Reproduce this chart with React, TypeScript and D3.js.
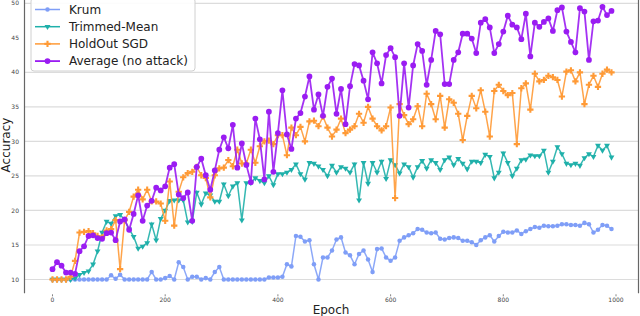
import * as d3 from "d3";

const width = 640;
const height = 316;

// one point every 8 epochs, 125 points per run
const epochStep = 8;
const xTicks = [0, 200, 400, 600, 800, 1000];
const yTicks = [10, 15, 20, 25, 30, 35, 40, 45, 50];
const gridTicks = [10, 15, 20, 25, 30, 35, 40, 50];

const krum = [
  10, 10, 10, 10, 10, 10, 10, 10, 10, 10,
  10, 10, 10, 10.6, 10.1, 10.7, 10, 10, 10, 10,
  10, 10, 11.1, 10, 10, 10.2, 10.5, 10, 12.5, 11.8,
  10, 10.4, 10.4, 10, 10.2, 10, 11.1, 11.8, 10, 10,
  10, 10, 10, 10, 10, 10, 10, 10, 10.3, 10.3,
  10.3, 10.4, 12.2, 11.9, 16.3, 16.2, 15.5, 15.7, 12.2, 10,
  13.2, 13.2, 14.2, 15.8, 16.1, 13.9, 13.5, 12.2, 13.7, 14.2,
  12.9, 11.1, 14.4, 14.5, 13.2, 12.7, 13.2, 15.6, 16.1, 16.4,
  16.7, 17.3, 17.2, 16.8, 16.7, 16.8, 15.9, 15.8, 16.0, 16.1,
  16.0, 15.6, 15.6, 15.4, 15.0, 15.7, 16.1, 16.4, 15.5, 16.3,
  16.9, 16.8, 16.8, 17.1, 16.6, 17.0, 17.3, 17.6, 17.5, 17.8,
  17.7, 17.7, 17.8, 18.0, 18.0, 17.9, 17.9, 17.8, 18.2, 18.0,
  16.8, 17.2, 17.9, 17.8, 17.3,
];

const trimmedMean = [
  10, 10, 10, 10, 10, 10.2, 10.7, 11.0, 11.2, 12.2,
  14.1, 16.8, 18.4, 18.1, 19.2, 19.4, 18.6, 17.3, 16.2, 14.5,
  14.8, 15.3, 18.0, 15.7, 18.8, 20.0, 21.4, 21.5, 21.5, 21.5,
  18.3, 18.4, 22.6, 20.9, 22.5, 22.2, 21.3, 21.3, 23.8, 22.1,
  23.5, 24.0, 18.6, 24.0, 24.0, 24.7, 24.3, 24.0, 25.0, 23.7,
  25.3, 25.3, 25.5, 25.9, 26.7, 25.3, 24.5, 26.9, 26.8, 26.4,
  25.9, 25.0, 26.5, 25.5, 26.3, 26.1, 25.5, 26.7, 21.5, 26.9,
  23.9, 26.9, 25.5, 27.1, 24.6, 27.3, 26.6, 25.4, 26.7, 26.3,
  24.8, 26.3, 27.2, 26.1, 27.3, 26.9, 25.9, 27.3, 27.7, 26.6,
  27.5, 26.8, 26.0, 27.1, 27.1, 26.9, 28.1, 27.8, 24.7, 25.5,
  28.3, 26.9, 25.0, 26.1, 27.3, 27.4, 28.0, 27.9, 27.9, 28.7,
  25.5, 27.1, 29.2, 28.2, 26.8, 26.6, 26.8, 26.5, 27.6, 28.2,
  27.8, 29.4, 28.7, 29.4, 27.7,
];

const holdoutSgd = [
  10, 10, 10, 10, 10.4, 12.7, 16.8, 16.9, 17.0, 16.7,
  16.3, 16.1, 17.1, 17.3, 18.6, 11.5, 18.6, 19.8, 22.0, 23.0,
  21.6, 23.0, 21.3, 21.3, 21.0, 18.5, 24.2, 17.8, 22.7, 24.8,
  25.4, 25.6, 26.3, 25.1, 24.7, 21.9, 25.1, 26.1, 26.2, 27.3,
  26.4, 28.8, 26.8, 26.8, 28.8, 26.9, 29.3, 30.0, 30.1, 29.6,
  30.9, 30.9, 28.0, 32.0, 30.9, 32.1, 30.0, 32.9, 33.0, 32.2,
  33.6, 32.0, 30.7, 31.7, 33.3, 31.2, 31.7, 32.2, 34.0, 32.7,
  35.0, 33.3, 32.2, 31.6, 32.2, 34.9, 21.8, 35.4, 33.8, 32.5,
  33.2, 35.1, 32.2, 36.9, 35.4, 33.2, 36.6, 32.0, 36.1, 35.6,
  34.0, 30.2, 33.7, 36.6, 34.8, 37.4, 34.3, 30.7, 37.3, 38.2,
  37.3, 36.7, 37.0, 29.6, 37.7, 38.4, 34.6, 39.8, 38.7, 38.9,
  39.5, 39.3, 38.9, 36.5, 40.1, 40.3, 38.7, 40.0, 35.4, 38.2,
  39.5, 37.9, 39.8, 40.4, 40.0,
];

const average = [
  11.5, 12.5, 12.0, 11.0, 11.0, 10.8, 14.1, 14.8, 16.3, 16.4,
  16.0, 15.9, 16.7, 16.8, 15.7, 18.4, 18.7, 17.2, 19.5, 22.2,
  18.5, 20.7, 21.4, 23.3, 22.9, 23.5, 26.2, 26.7, 22.3, 21.8,
  22.6, 18.5, 26.3, 27.5, 25.1, 23.0, 25.8, 28.8, 30.6, 29.0,
  32.4, 26.2, 29.7, 26.6, 24.1, 33.3, 30.3, 24.5, 34.3, 25.6,
  31.2, 37.4, 31.0, 28.9, 33.3, 34.1, 36.5, 39.4, 34.6, 36.8,
  33.7, 37.9, 39.1, 34.0, 37.6, 32.5, 38.0, 41.2, 41.0, 38.8,
  36.1, 42.9, 41.3, 38.4, 42.5, 43.5, 42.2, 33.7, 41.3, 34.9,
  41.0, 44.1, 43.1, 38.2, 41.8, 46.0, 45.5, 38.3, 38.3, 41.8,
  42.9, 45.6, 45.6, 44.9, 42.8, 47.2, 47.7, 46.5, 42.8, 44.1,
  45.9, 48.2, 46.9, 46.5, 44.8, 48.5, 42.3, 47.2, 46.6, 47.3,
  47.8, 46.0, 49.0, 49.4, 45.9, 44.4, 42.9, 49.3, 48.8, 41.8,
  47.4, 47.5, 49.5, 48.3, 48.9,
];

const series = [
  { name: "Krum", values: krum, color: "#7f9ef7", symbol: d3.symbolCircle, size: 16, rotate: 0, lw: 1.5 },
  { name: "Trimmed-Mean", values: trimmedMean, color: "#1fb0aa", symbol: d3.symbolTriangle, size: 15, rotate: 180, lw: 1.5 },
  { name: "HoldOut SGD", values: holdoutSgd, color: "#ff9a36", symbol: d3.symbolCross, size: 22, rotate: 0, lw: 1.5 },
  { name: "Average (no attack)", values: average, color: "#9a1cf2", symbol: d3.symbolCircle, size: 26, rotate: 0, lw: 1.8 },
];

const x = d3.scaleLinear().domain([0, 1000]).range([52.5, 616]);
const y = d3.scaleLinear().domain([10, 50]).range([279.5, 3.3]);
const plotLeft = 24.5;
const plotRight = 638.5;
const plotBottom = y(8);

const App = () => {
  const line = d3
    .line<number>()
    .x((_, i) => x(i * epochStep))
    .y((d) => y(d));

  return (
    <svg
      width={width}
      height={height}
      style={{ position: "absolute", left: 0, top: 0, background: "#fff" }}
      fontFamily="DejaVu Sans, sans-serif"
    >
      {gridTicks.map((t) => (
        <line key={t} x1={plotLeft} x2={plotRight} y1={y(t)} y2={y(t)} stroke="#dcdcdc" strokeWidth={1.2} />
      ))}
      <line x1={plotLeft} x2={plotLeft} y1={0} y2={plotBottom} stroke="#666" strokeWidth={1.2} />
      <line x1={plotRight} x2={plotRight} y1={0} y2={plotBottom} stroke="#666" strokeWidth={1.2} />

      {yTicks.map((t) => (
        <text key={t} x={19} y={y(t)} dy="0.35em" textAnchor="end" fontSize={6} fill="#444">
          {t}
        </text>
      ))}
      {xTicks.map((t) => (
        <g key={t} transform={`translate(${x(t)},0)`}>
          <line y1={plotBottom + 1} y2={plotBottom + 3} stroke="#666" strokeWidth={0.8} />
          <text y={302} textAnchor="middle" fontSize={6} fill="#444">
            {t}
          </text>
        </g>
      ))}
      <text x={331} y={314} textAnchor="middle" fontSize={12} fill="#222">
        Epoch
      </text>
      <text transform="translate(9.5,145) rotate(-90)" textAnchor="middle" fontSize={12} fill="#222">
        Accuracy
      </text>

      {series.map((s) => (
        <g key={s.name}>
          <path d={line(s.values) ?? ""} fill="none" stroke={s.color} strokeWidth={s.lw} strokeOpacity={0.9} />
          {s.values.map((v, i) => (
            <path
              key={i}
              d={d3.symbol().type(s.symbol).size(s.size)() ?? ""}
              transform={`translate(${x(i * epochStep)},${y(v)}) rotate(${s.rotate})`}
              fill={s.color}
            />
          ))}
        </g>
      ))}

      <rect x={31} y={-2} width={164} height={73} rx={3} fill="#fff" fillOpacity={0.9} stroke="#d0d0d0" strokeWidth={1} />
      {series.map((s, i) => {
        const cy = 9.5 + i * 17.2;
        return (
          <g key={s.name}>
            <line x1={35} x2={60} y1={cy} y2={cy} stroke={s.color} strokeWidth={s.lw} />
            <path
              d={d3.symbol().type(s.symbol).size(s.size)() ?? ""}
              transform={`translate(47.5,${cy}) rotate(${s.rotate})`}
              fill={s.color}
            />
            <text x={69} y={cy} dy="0.35em" fontSize={12} fill="#222">
              {s.name}
            </text>
          </g>
        );
      })}
    </svg>
  );
};

export default App;
